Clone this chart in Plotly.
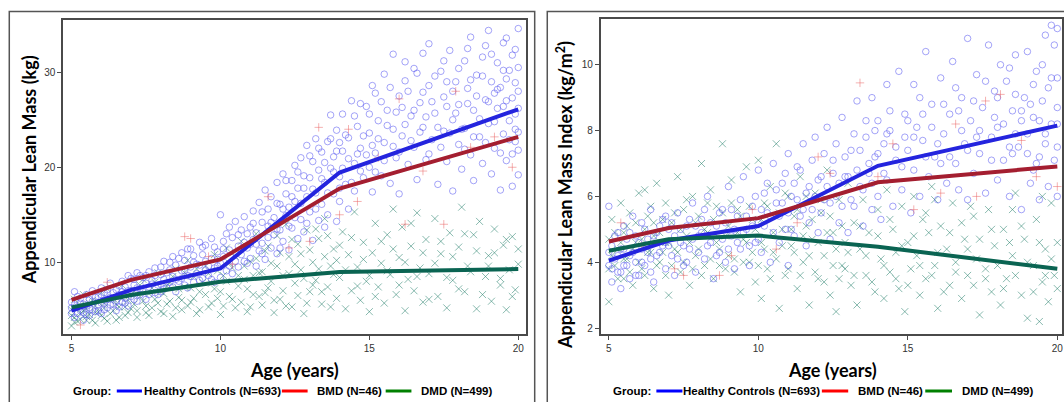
import plotly.graph_objects as go

W, H = 1064, 402

# ---------------- fitted group curves (knots at 5, 7, 10, 14, 20 years) ----------------
knot_ages = [5, 7, 10, 14, 20]

alm_hc = [4.9, 7.1, 9.35, 19.45, 26.1]
alm_bmd = [6.05, 8.15, 10.3, 17.75, 23.2]
alm_dmd = [5.25, 6.55, 7.95, 8.98, 9.28]

almi_hc = [4.05, 4.66, 5.1, 6.93, 8.15]
almi_bmd = [4.63, 5.04, 5.34, 6.43, 6.91]
almi_dmd = [4.35, 4.7, 4.81, 4.47, 3.8]

# ---------------- observations: (age, value) ----------------
alm_hc_obs = [
    (5.0,4.6),(5.0,5.8),(5.1,6.9),(5.1,4.2),(5.2,5.3),(5.3,6.2),(5.3,4.9),(5.4,3.9),(5.4,5.6),(5.5,6.6),
    (5.5,4.5),(5.6,5.2),(5.7,7.0),(5.7,5.9),(5.8,4.8),(5.9,6.4),(5.9,5.5),(6.0,7.3),(6.0,4.6),(6.1,6.0),
    (6.1,6.8),(6.2,5.2),(6.3,7.8),(6.3,6.3),(6.4,5.6),(6.5,7.1),(6.5,4.9),(6.6,6.6),(6.7,8.0),(6.7,5.8),
    (6.8,7.4),(6.8,6.2),(6.9,8.6),(6.9,5.4),(7.0,7.0),(7.0,6.4),(7.1,8.2),(7.1,7.6),(7.2,5.9),(7.2,8.9),
    (7.3,7.2),(7.3,6.6),(7.4,8.4),(7.5,7.8),(7.5,6.1),(7.6,9.0),(7.6,7.4),(7.7,8.1),(7.8,6.8),(7.8,9.4),
    (7.9,7.6),(8.0,8.7),(8.0,6.9),(8.1,10.1),(8.1,8.2),(8.2,7.3),(8.3,9.2),(8.3,7.9),(8.4,10.6),(8.4,8.5),
    (8.5,6.9),(8.5,9.7),(8.6,8.0),(8.7,11.0),(8.7,9.1),(8.8,7.6),(8.8,10.2),(8.9,8.6),(9.0,9.5),(9.0,11.4),
    (9.1,7.9),(9.1,10.0),(9.2,8.8),(9.3,12.1),(9.3,9.7),(9.4,8.3),(9.4,10.8),(9.5,9.2),(9.5,11.8),(9.6,8.6),
    (9.7,10.4),(9.7,12.5),(9.8,9.4),(9.8,7.9),(9.9,11.1),(10.0,15.0),(10.0,9.9),(10.0,8.4),(10.1,12.2),(10.1,10.6),
    (10.2,9.1),(10.2,13.0),(10.3,11.3),(10.4,8.8),(10.4,12.6),(10.5,10.1),(10.5,14.3),(10.6,11.7),(10.6,9.5),(10.7,13.4),
    (10.7,10.8),(10.8,12.1),(10.8,14.8),(10.9,9.9),(10.9,11.5),(11.0,13.7),(11.0,10.4),(11.1,15.4),(11.1,12.4),(11.2,9.6),
    (11.2,13.1),(11.3,16.3),(11.3,11.2),(11.4,14.2),(11.4,12.0),(11.5,17.6),(11.5,10.3),(11.6,13.8),(11.6,15.6),(11.7,11.5),
    (11.7,16.9),(11.8,12.9),(11.8,14.7),(11.9,18.4),(11.9,10.9),(12.0,13.4),(12.0,16.1),(12.1,19.3),(12.1,12.2),(12.2,14.9),
    (12.2,17.2),(12.3,11.3),(12.3,15.8),(12.4,18.6),(12.4,13.6),(12.5,20.2),(12.5,16.4),(12.6,12.5),(12.6,17.8),(12.7,14.5),
    (12.7,21.0),(12.8,19.1),(12.8,13.2),(12.9,16.9),(12.9,22.3),(13.0,15.3),(13.0,18.9),(13.1,12.3),(13.1,20.6),(13.2,17.3),
    (13.2,23.0),(13.3,14.4),(13.3,19.7),(13.4,21.6),(13.4,16.1),(13.5,13.7),(13.5,18.4),(13.6,22.7),(13.6,15.0),(13.7,19.9),
    (13.7,25.5),(13.8,17.2),(13.8,21.1),(13.9,14.3),(13.9,23.9),(14.0,19.0),(14.0,16.4),(14.1,25.6),(14.1,21.7),(14.2,18.2),
    (14.3,23.1),(14.3,15.6),(14.4,27.0),(14.5,20.4),(14.5,17.5),(14.6,24.3),(14.7,22.0),(14.8,18.9),(14.9,26.4),(15.0,20.0),
    (15.0,23.6),(15.1,17.4),(15.2,27.8),(15.2,21.5),(15.3,24.9),(15.4,19.1),(15.5,29.8),(15.5,22.6),(15.6,26.0),(15.7,18.3),
    (15.8,24.0),(15.8,31.9),(15.9,21.0),(16.0,27.5),(16.0,17.2),(16.1,23.3),(16.2,29.1),(16.3,20.3),(16.4,25.4),(16.5,22.1),
    (16.5,30.4),(16.6,18.7),(16.7,26.8),(16.8,24.2),(16.9,20.8),(17.0,28.6),(17.0,33.0),(17.1,22.9),(17.2,25.7),(17.3,18.2),
    (17.4,30.1),(17.5,23.8),(17.5,27.4),(17.6,20.6),(17.7,32.3),(17.8,25.0),(17.8,17.5),(17.9,29.0),(18.0,22.4),(18.0,26.6),
    (18.1,19.8),(18.2,31.2),(18.2,24.1),(18.3,28.3),(18.4,21.3),(18.4,33.7),(18.5,26.0),(18.5,18.6),(18.6,29.7),(18.7,23.2),
    (18.8,31.6),(18.8,20.4),(18.9,27.1),(19.0,24.6),(19.0,34.4),(19.1,19.3),(19.1,29.0),(19.2,22.0),(19.3,31.0),(19.3,26.2),
    (19.4,17.6),(19.4,28.4),(19.5,23.5),(19.5,33.1),(19.6,20.7),(19.6,27.0),(19.7,30.2),(19.7,24.9),(19.8,18.0),(19.8,31.8),
    (19.9,22.7),(19.9,28.9),(20.0,26.2),(20.0,19.2),(20.0,34.6),(20.0,23.7),(20.0,30.5),(19.9,25.6),(19.8,21.4),(19.6,33.6),
    (19.2,27.8),
    (5.0,5.2),(5.1,5.5),(5.2,4.6),(5.2,6.4),(5.3,5.7),(5.4,4.7),(5.5,5.4),(5.6,6.1),(5.6,4.4),(5.7,5.0),
    (5.8,6.3),(5.9,4.9),(6.0,5.7),(6.0,6.6),(6.1,5.0),(6.2,6.1),(6.2,7.1),(6.3,5.5),(6.4,6.8),(6.5,5.9),
    (6.6,7.5),(6.6,5.3),(6.7,6.9),(6.8,5.7),(6.9,7.0),(7.0,8.3),(7.1,6.1),(7.2,7.3),(7.3,8.6),(7.4,6.9),
    (7.5,8.6),(7.6,6.6),(7.7,7.7),(7.8,8.6),(7.9,6.6),(8.0,9.5),(8.0,7.7),(8.1,7.2),(8.2,8.9),(8.3,10.0),
    (8.4,7.4),(8.5,8.2),(8.6,10.4),(8.7,8.3),(8.8,9.1),(8.9,11.4),(8.9,7.3),(9.0,8.5),(9.1,10.7),(9.2,9.8),
    (9.3,8.1),(9.4,11.6),(9.5,10.1),(9.6,9.6),(9.7,8.2),(9.8,11.6),(9.9,9.6),(9.9,10.3),(10.1,11.4),(10.3,9.6),
    (10.3,13.7),(10.5,11.0),(10.6,12.9),(10.8,10.1),(10.9,13.0),(11.0,11.9),(11.1,14.1),(11.2,11.9),(11.4,10.9),(11.4,15.3),
    (11.6,12.6),(11.7,14.2),(11.9,13.5),(11.9,16.2),(12.0,11.5),(12.1,15.6),(12.2,18.6),(12.3,13.8),(12.4,16.9),(12.5,14.7),
    (12.6,19.5),(12.7,16.2),(12.8,17.8),(12.9,14.1),(13.0,21.2),(13.1,17.7),(13.2,15.6),(13.3,22.0),(13.4,18.8),(13.5,20.5),
    (13.6,17.3),(13.7,23.0),(13.8,19.5),(13.9,21.7),(14.0,22.6),(14.0,17.8),(14.1,19.9),(14.2,23.4),(14.3,20.9),(14.4,18.4),
    (14.5,25.4),(14.6,21.4),(14.7,19.6),(14.7,26.7),(14.8,23.3),(14.9,21.3),(15.0,25.6),(15.1,22.3),(15.1,28.6),(15.2,19.5),
    (15.3,23.0),(15.4,26.9),(15.5,20.7),(15.6,24.4),(15.7,28.4),(15.8,22.2),(15.9,25.8),(16.0,21.6),(16.1,26.3),(16.2,24.5),
    (16.3,28.0),(16.4,22.8),(16.5,26.0),(16.6,29.9),(16.7,23.7),(16.8,27.9),(16.9,25.3),(17.0,21.4),(17.1,26.9),(17.2,29.6),
    (17.3,24.2),(17.4,22.1),(17.5,31.2),(17.6,26.4),(17.7,23.6),(17.8,28.0),(17.9,25.7),(18.0,30.4),(18.1,24.0),(18.2,21.9),
    (18.3,26.7),(18.4,29.2),(18.5,23.2),(18.6,27.5),(18.7,25.1),(18.8,29.6),(18.9,22.6),(19.0,26.9),(19.1,31.9),(19.2,24.8),
    (19.3,28.2),(19.4,21.5),(19.5,26.4),(19.6,29.3),(19.7,22.9),(19.8,27.3),(19.9,24.0),(20.0,28.0),(20.0,21.8),(19.9,32.4),
    (19.5,30.2),(18.9,32.8),(18.3,32.5),(17.6,29.0),(16.8,32.0),(16.2,31.1),
]

alm_dmd_obs = [
    (5.0,3.3),(5.0,5.0),(5.1,4.2),(5.1,6.1),(5.2,3.8),(5.3,5.5),(5.3,4.6),(5.4,6.6),(5.5,3.9),(5.5,5.1),
    (5.6,4.5),(5.7,6.0),(5.8,3.6),(5.8,5.4),(5.9,4.8),(6.0,6.8),(6.1,4.1),(6.1,5.7),(6.2,7.2),(6.3,4.6),
    (6.4,6.2),(6.5,3.9),(6.6,5.3),(6.7,7.6),(6.8,4.4),(6.9,6.0),(7.0,5.1),(7.1,7.0),(7.2,4.2),(7.3,6.4),
    (7.4,8.2),(7.5,5.4),(7.6,4.4),(7.7,7.3),(7.8,6.1),(7.9,8.9),(8.0,4.8),(8.1,6.7),(8.2,5.6),(8.3,7.9),
    (8.4,4.3),(8.5,9.3),(8.6,6.3),(8.7,5.0),(8.8,7.4),(8.9,10.2),(9.0,5.8),(9.1,8.5),(9.2,4.6),(9.3,6.9),
    (9.5,9.6),(9.6,5.3),(9.7,7.8),(9.8,10.8),(9.9,6.2),(10.0,4.5),(10.1,8.6),(10.2,11.5),(10.3,6.4),(10.4,9.4),
    (10.5,5.2),(10.6,7.5),(10.7,12.2),(10.8,8.2),(10.9,4.8),(11.0,10.1),(11.1,6.6),(11.2,13.0),(11.3,8.9),(11.4,5.5),
    (11.5,11.2),(11.6,7.3),(11.7,9.9),(11.8,4.7),(11.9,12.8),(12.0,6.1),(12.1,8.6),(12.2,14.0),(12.3,10.6),(12.4,5.3),
    (12.5,7.8),(12.6,11.9),(12.7,9.2),(12.8,4.6),(12.9,13.4),(13.0,6.9),(13.1,10.0),(13.2,8.1),(13.3,12.5),(13.4,5.6),
    (13.5,14.6),(13.6,7.4),(13.7,9.6),(13.8,11.4),(13.9,6.2),(14.0,8.4),(14.1,13.2),(14.2,5.1),(14.3,10.8),(14.4,7.0),
    (14.5,15.3),(14.6,9.5),(14.7,6.0),(14.8,12.1),(14.9,8.0),(15.0,4.8),(15.1,11.0),(15.2,14.1),(15.3,7.4),(15.4,9.9),
    (15.5,5.7),(15.6,12.9),(15.7,8.7),(15.8,15.6),(15.9,6.6),(16.0,10.5),(16.1,13.7),(16.2,4.9),(16.3,8.2),(16.4,11.7),
    (16.5,7.0),(16.6,15.2),(16.7,9.4),(16.8,5.8),(16.9,12.4),(17.0,8.8),(17.2,14.6),(17.3,6.4),(17.4,10.9),(17.6,5.2),
    (17.7,13.1),(17.8,8.1),(18.0,11.6),(18.1,15.8),(18.2,6.9),(18.3,9.6),(18.5,12.9),(18.6,5.1),(18.7,14.3),(18.9,8.5),
    (19.0,10.7),(19.1,5.9),(19.2,13.5),(19.4,7.6),(19.5,11.8),(19.6,5.0),(19.7,9.2),(19.8,12.7),(19.9,7.1),(20.0,11.4),
    (5.0,4.4),(5.1,3.7),(5.2,5.1),(5.3,4.0),(5.4,4.9),(5.5,4.3),(5.6,5.7),(5.7,3.9),(5.8,4.7),(5.9,5.8),
    (6.0,4.4),(6.1,5.2),(6.2,3.8),(6.3,6.0),(6.4,4.9),(6.5,5.6),(6.6,4.2),(6.7,6.2),(6.8,5.3),(6.9,4.7),
    (7.0,6.6),(7.1,5.6),(7.2,4.9),(7.3,7.6),(7.4,5.9),(7.5,4.7),(7.6,6.7),(7.7,5.2),(7.8,7.9),(7.9,5.7),
    (8.0,6.9),(8.1,4.6),(8.2,7.5),(8.3,5.9),(8.4,8.5),(8.5,5.2),(8.6,7.2),(8.7,6.0),(8.8,8.9),(8.9,5.4),
    (9.0,7.3),(9.1,6.2),(9.2,9.3),(9.3,5.0),(9.4,7.9),(9.5,6.6),(9.6,8.8),(9.7,5.7),(9.8,7.2),(9.9,9.1),
    (10.0,6.9),(10.1,5.4),(10.2,8.0),(10.3,9.9),(10.4,6.1),(10.5,10.6),(10.6,8.6),(10.7,5.8),(10.8,9.6),(10.9,7.2),
    (11.0,5.3),(11.1,8.6),(11.2,10.4),(11.3,6.4),(11.4,9.0),(11.5,6.8),(11.6,11.7),(11.7,8.0),(11.8,6.0),(11.9,9.6),
    (12.0,11.0),(12.1,7.0),(12.2,5.4),(12.3,8.8),(12.4,12.4),(12.5,9.8),(12.6,6.5),(12.7,10.9),(12.8,8.3),(12.9,5.7),
    (13.0,11.3),(13.1,7.6),(13.2,13.5),(13.3,9.3),(13.4,6.9),(13.5,10.6),(13.6,12.8),(13.7,5.3),(13.8,8.7),(13.9,10.2),
    (14.0,11.8),(14.2,9.2),(14.4,12.6),(14.6,7.5),(14.8,10.3),(15.0,8.6),(15.2,6.4),(15.4,12.2),(15.6,9.1),(15.8,11.4),
    (16.0,7.6),(16.2,10.0),(16.4,14.1),(16.6,8.5),(16.8,11.0),(17.0,6.1),(17.2,9.9),(17.4,12.2),(17.6,8.4),(17.8,10.6),
    (18.0,7.2),(18.2,13.0),(18.4,9.0),(18.6,11.2),(18.8,6.6),(19.0,9.6),(19.2,11.0),(19.4,8.3),(19.6,12.4),(19.8,6.4),
    (20.0,9.8),
]

alm_bmd_obs = [
    (5.3,3.4),(6.2,7.9),(8.8,12.7),(9.0,12.5),(9.6,10.6),(10.4,9.8),(11.6,16.9),(12.3,11.5),(13.0,12.2),(13.3,24.2),
    (14.0,15.0),(14.3,24.0),(14.6,16.4),(15.3,21.0),(16.0,27.2),(16.2,14.0),(16.8,19.6),(17.5,14.0),(17.9,28.0),(18.4,22.1),
    (19.2,23.2),(19.8,20.0),
]

almi_hc_obs = [
    (5.0,5.7),(5.0,3.9),(5.1,4.5),(5.1,3.4),(5.2,4.1),(5.3,4.9),(5.3,3.7),(5.4,3.2),(5.4,4.4),(5.5,5.1),
    (5.5,3.9),(5.6,4.7),(5.7,3.5),(5.7,4.2),(5.8,5.4),(5.9,4.0),(5.9,4.8),(6.0,3.6),(6.1,4.4),(6.1,5.2),
    (6.2,3.9),(6.3,4.7),(6.4,5.6),(6.4,4.1),(6.5,3.4),(6.6,4.9),(6.7,4.3),(6.8,5.3),(6.9,3.8),(6.9,4.6),
    (7.0,5.0),(7.1,4.2),(7.2,3.6),(7.3,5.5),(7.4,4.6),(7.5,3.9),(7.6,5.1),(7.7,4.4),(7.8,5.8),(7.9,3.7),
    (8.0,4.8),(8.1,5.3),(8.2,4.1),(8.3,6.0),(8.4,4.6),(8.5,3.5),(8.6,5.1),(8.7,4.3),(8.8,5.6),(8.9,4.0),
    (9.0,6.3),(9.1,4.8),(9.2,3.8),(9.3,5.4),(9.4,4.4),(9.5,6.6),(9.6,5.0),(9.7,3.9),(9.8,5.7),(9.9,4.6),
    (10.0,6.8),(10.0,5.2),(10.1,4.3),(10.2,6.1),(10.3,5.5),(10.4,4.0),(10.5,7.0),(10.6,5.8),(10.7,4.6),(10.8,6.4),
    (10.9,5.0),(11.0,7.3),(11.0,3.9),(11.1,6.0),(11.2,4.8),(11.3,6.9),(11.4,5.4),(11.5,7.6),(11.6,4.5),(11.7,6.3),
    (11.8,5.6),(11.9,7.8),(12.0,4.9),(12.1,6.6),(12.2,5.9),(12.3,8.1),(12.4,4.7),(12.5,7.1),(12.6,6.0),(12.7,5.2),
    (12.8,8.4),(12.9,6.6),(13.0,4.9),(13.1,7.4),(13.2,5.7),(13.3,8.9),(13.4,6.3),(13.5,5.1),(13.6,7.8),(13.7,6.7),
    (13.8,9.0),(13.8,5.6),(13.9,7.2),(14.0,6.0),(14.0,8.3),(14.1,5.3),(14.2,7.6),(14.3,9.4),(14.3,6.5),(14.4,8.0),
    (14.5,5.7),(14.6,7.1),(14.7,9.8),(14.8,6.2),(14.9,8.5),(15.0,7.4),(15.1,5.5),(15.2,9.4),(15.2,6.8),(15.3,8.1),
    (15.4,6.0),(15.5,7.7),(15.6,10.4),(15.7,6.6),(15.8,8.8),(15.9,7.2),(16.0,5.9),(16.1,9.6),(16.2,7.9),(16.3,6.4),
    (16.4,8.5),(16.5,10.1),(16.6,7.0),(16.7,6.2),(16.8,9.0),(16.9,7.6),(17.0,10.8),(17.0,5.9),(17.1,8.3),(17.2,6.7),
    (17.3,9.7),(17.4,7.3),(17.5,8.7),(17.6,6.1),(17.7,10.6),(17.8,7.8),(17.9,9.2),(18.0,6.5),(18.0,8.1),(18.1,10.0),
    (18.2,7.1),(18.3,9.5),(18.4,6.0),(18.5,8.6),(18.6,10.3),(18.7,7.5),(18.8,5.6),(18.9,9.0),(19.0,7.9),(19.0,10.4),
    (19.1,6.4),(19.2,8.4),(19.3,9.8),(19.3,7.0),(19.4,5.9),(19.5,8.9),(19.5,10.0),(19.6,7.6),(19.7,6.3),(19.7,9.3),
    (19.8,11.2),(19.8,8.2),(19.9,7.1),(19.9,10.6),(20.0,8.7),(20.0,6.0),(20.0,9.6),(20.0,7.5),(19.6,10.9),(19.2,6.8),
    (18.8,8.3),(18.4,9.9),(20.0,11.1),(19.4,7.2),(18.6,7.9),
    (5.0,4.3),(5.1,3.8),(5.2,4.8),(5.3,4.2),(5.4,3.7),(5.5,4.4),(5.6,3.9),(5.7,4.9),(5.8,4.3),(5.9,3.6),
    (6.0,4.6),(6.1,4.0),(6.2,5.0),(6.3,4.3),(6.4,3.7),(6.5,4.8),(6.6,4.2),(6.7,5.1),(6.8,4.5),(6.9,5.4),
    (7.0,4.5),(7.1,5.2),(7.2,4.8),(7.3,4.1),(7.4,5.0),(7.5,4.5),(7.6,4.0),(7.7,5.3),(7.8,4.7),(7.9,5.1),
    (8.0,4.3),(8.1,4.9),(8.2,5.6),(8.3,4.5),(8.4,5.2),(8.5,4.8),(8.6,4.2),(8.7,5.5),(8.8,4.7),(8.9,5.2),
    (9.0,4.4),(9.1,5.6),(9.2,5.0),(9.3,4.6),(9.4,5.9),(9.5,4.9),(9.6,5.4),(9.7,4.5),(9.8,5.1),(9.9,6.0),
    (10.0,4.7),(10.1,5.6),(10.2,5.1),(10.3,6.4),(10.4,5.4),(10.5,4.9),(10.6,6.2),(10.7,5.4),(10.8,5.8),(10.9,6.7),
    (11.0,5.5),(11.1,5.0),(11.2,6.4),(11.3,5.9),(11.4,6.8),(11.5,5.6),(11.6,6.1),(11.7,5.2),(11.8,7.1),(11.9,6.0),
    (12.0,6.5),(12.1,5.5),(12.2,7.3),(12.3,6.3),(12.4,5.8),(12.5,6.7),(12.6,7.6),(12.7,6.4),(12.8,5.7),(12.9,7.2),
    (13.0,6.6),(13.1,5.9),(13.2,7.9),(13.3,6.8),(13.4,7.4),(13.5,6.2),(13.6,8.3),(13.7,7.0),(13.8,6.4),(13.9,8.0),
    (14.0,7.3),(14.2,6.7),(14.4,8.6),(14.6,7.5),(14.8,6.9),(15.0,8.3),(15.2,7.8),(15.4,9.0),(15.6,7.2),(15.8,8.1),
    (16.0,7.6),(16.2,8.8),(16.4,7.2),(16.6,9.3),(16.8,8.0),(17.0,7.4),(17.2,8.9),(17.4,8.0),(17.6,9.5),(17.8,7.1),
    (18.0,9.0),(18.2,8.2),(18.4,7.5),(18.6,9.1),(18.8,8.6),(19.0,7.3),(19.2,9.4),(19.4,8.3),(19.6,7.9),(19.8,9.6),
    (20.0,8.2),(19.1,8.8),(18.5,7.3),(17.9,8.4),(17.3,7.8),(16.7,8.6),(16.1,7.0),(15.5,8.5),(14.9,7.8),(14.3,7.9),
]

almi_dmd_obs = [
    (5.0,2.8),(5.0,4.7),(5.1,5.3),(5.2,3.9),(5.3,4.4),(5.4,5.8),(5.5,3.5),(5.5,4.9),(5.6,4.1),(5.7,5.5),
    (5.8,3.3),(5.9,4.6),(6.0,6.1),(6.1,3.8),(6.2,5.0),(6.3,4.3),(6.4,5.7),(6.5,3.2),(6.5,4.8),(6.6,6.4),
    (6.7,4.0),(6.8,5.3),(6.9,3.6),(6.9,4.6),(6.2,6.2),(7.0,3.0),(7.1,5.2),(7.2,4.4),(7.3,6.6),(7.4,3.7),
    (7.5,5.6),(7.6,4.8),(7.7,3.3),(7.8,6.0),(7.9,4.2),(8.0,5.4),(8.1,7.0),(8.2,3.9),(8.3,4.9),(8.4,6.2),
    (8.5,3.5),(8.6,5.7),(8.7,4.4),(8.8,7.6),(8.9,3.8),(9.0,5.1),(9.1,6.5),(9.2,4.1),(9.3,5.6),(9.4,3.1),
    (9.5,4.7),(9.6,6.9),(9.7,4.0),(9.8,5.3),(9.9,3.4),(10.0,7.1),(10.1,4.6),(10.1,2.9),(10.2,5.8),(10.3,3.8),
    (10.4,6.3),(10.5,4.3),(10.6,7.6),(10.7,2.6),(10.8,5.0),(10.9,3.6),(11.0,6.0),(11.1,4.5),(11.2,5.4),(11.3,3.2),
    (11.4,6.6),(11.5,4.0),(11.6,5.1),(11.7,2.7),(11.8,4.7),(11.9,6.1),(12.0,3.5),(12.1,5.5),(12.2,4.2),(12.3,6.8),
    (12.4,3.0),(12.5,4.9),(12.6,2.5),(12.7,5.9),(12.8,3.9),(12.9,4.6),(13.0,6.4),(13.1,3.3),(13.2,5.2),(13.3,2.7),
    (13.4,4.4),(13.5,5.9),(13.6,3.6),(13.7,4.9),(13.9,3.1),(14.0,5.6),(14.1,4.1),(14.2,2.9),(14.3,6.2),(14.4,3.7),
    (14.5,5.0),(14.6,4.3),(14.7,3.2),(14.8,5.7),(14.9,2.5),(15.0,4.6),(15.1,3.8),(15.2,6.0),(15.3,4.2),(15.4,3.0),
    (15.5,5.3),(15.6,3.5),(15.7,4.9),(15.8,6.3),(15.9,3.9),(16.0,2.6),(16.1,5.1),(16.3,4.4),(16.4,3.3),(16.5,5.8),
    (16.6,4.0),(16.8,2.9),(16.9,4.7),(17.0,3.6),(17.2,5.4),(17.3,4.1),(17.4,2.4),(17.6,3.8),(17.7,5.6),(17.8,3.1),
    (17.9,4.5),(18.1,2.7),(18.2,5.0),(18.3,3.5),(18.5,4.2),(18.6,6.1),(18.8,3.0),(18.9,4.7),(19.0,2.3),(19.2,3.9),
    (19.3,5.3),(19.5,3.4),(19.6,4.4),(19.7,2.8),(19.8,5.8),(19.9,3.6),(20.0,4.6),(19.4,2.2),
    (5.0,3.8),(5.1,4.2),(5.2,4.9),(5.3,3.5),(5.4,4.6),(5.5,4.1),(5.6,5.1),(5.7,3.7),(5.8,4.4),(5.9,5.2),
    (6.0,4.0),(6.1,4.7),(6.2,3.6),(6.3,5.4),(6.4,4.3),(6.5,5.2),(6.6,3.9),(6.7,4.9),(6.8,4.3),(6.9,5.8),
    (7.0,4.6),(7.1,3.9),(7.2,5.5),(7.3,4.3),(7.4,5.0),(7.5,4.0),(7.6,5.9),(7.7,4.6),(7.8,3.8),(7.9,5.2),
    (8.0,4.4),(8.1,3.6),(8.2,5.0),(8.3,5.8),(8.4,4.1),(8.5,5.3),(8.6,4.6),(8.7,3.9),(8.8,5.5),(8.9,4.8),
    (9.0,4.2),(9.1,5.8),(9.2,3.7),(9.3,4.9),(9.4,5.4),(9.5,4.0),(9.6,4.6),(9.7,5.7),(9.8,4.3),(9.9,5.0),
    (10.0,3.9),(10.1,5.3),(10.2,4.4),(10.3,5.7),(10.4,3.5),(10.5,4.9),(10.6,4.1),(10.7,5.5),(10.8,4.5),(10.9,6.1),
    (11.0,3.8),(11.1,5.0),(11.2,4.3),(11.3,5.6),(11.4,3.6),(11.5,4.8),(11.6,6.0),(11.7,4.2),(11.8,5.3),(11.9,3.7),
    (12.0,4.6),(12.1,5.9),(12.2,3.4),(12.3,4.9),(12.4,5.4),(12.5,3.9),(12.6,4.4),(12.7,3.5),(12.8,5.1),(12.9,3.8),
    (13.0,4.3),(13.2,3.6),(13.4,5.1),(13.6,4.2),(13.8,3.4),(14.0,4.8),(14.2,3.9),(14.4,5.3),(14.6,3.5),(14.8,4.5),
    (15.0,3.3),(15.2,4.8),(15.4,3.9),(15.6,5.5),(15.8,3.6),(16.0,4.3),(16.2,3.1),(16.4,4.9),(16.6,3.7),(16.8,5.2),
    (17.0,4.4),(17.2,3.3),(17.4,4.7),(17.6,3.5),(17.8,5.0),(18.0,3.9),(18.2,3.2),(18.4,4.6),(18.6,3.6),(18.8,5.1),
    (19.0,4.0),(19.2,3.1),(19.4,4.6),(19.6,3.6),(19.8,4.1),(20.0,3.2),(15.9,5.9),(17.1,5.7),(18.5,5.6),(19.5,6.0),
]

almi_bmd_obs = [
    (5.4,5.2),(6.1,4.5),(7.2,3.8),(7.5,3.6),(8.7,3.6),(9.1,4.2),(9.8,5.6),(10.6,4.4),(11.3,5.2),(12.0,7.2),
    (12.4,6.7),(13.4,9.45),(14.0,6.6),(14.5,7.6),(15.2,5.6),(16.1,6.1),(16.6,8.2),(17.3,6.0),(17.6,8.9),(18.1,9.1),
    (18.8,7.7),(19.3,6.6),(20.0,6.3),
]

group_labels = ["Healthy Controls (N=693)", "BMD (N=46)", "DMD (N=499)"]
y_titles = ["Appendicular Lean Mass (kg)", "Appendicular Lean Mass Index (kg/m<sup>2</sup>)"]
x_title = "Age (years)"
x_ticks = [5, 10, 15, 20]
left_y_ticks = [10, 20, 30]
right_y_ticks = [2, 4, 6, 8, 10]

# ---------------- styling ----------------
LINE_COL = {"hc": "rgb(36,36,222)", "bmd": "rgb(164,30,48)", "dmd": "rgb(10,100,82)"}
KEY_COL = {"hc": "rgb(0,0,255)", "bmd": "rgb(255,0,0)", "dmd": "rgb(0,128,0)"}
HC_MARK = "rgba(90,90,240,0.55)"
DMD_MARK = "rgba(40,130,110,0.55)"
BMD_MARK = "rgba(235,100,100,0.5)"


def px(x):
    return x / W


def py(y):
    return 1 - y / H


fig = go.Figure()


def add_panel(xa, ya, hc, dmd, bmd, c_hc, c_bmd, c_dmd):
    for obs, sym, col, size in ((dmd, "x-thin-open", DMD_MARK, 7),
                                (hc, "circle-open", HC_MARK, 6.5),
                                (bmd, "cross-thin-open", BMD_MARK, 6)):
        fig.add_trace(go.Scatter(
            x=[a for a, _ in obs], y=[v for _, v in obs], mode="markers",
            marker=dict(symbol=sym, size=size, color=col, line=dict(color=col, width=1)),
            xaxis=xa, yaxis=ya, showlegend=False, hoverinfo="skip"))
    for vals, key in ((c_hc, "hc"), (c_bmd, "bmd"), (c_dmd, "dmd")):
        fig.add_trace(go.Scatter(
            x=knot_ages, y=vals, mode="lines",
            line=dict(color=LINE_COL[key], width=4),
            xaxis=xa, yaxis=ya, showlegend=False, hoverinfo="skip"))


add_panel("x", "y", alm_hc_obs, alm_dmd_obs, alm_bmd_obs, alm_hc, alm_bmd, alm_dmd)
add_panel("x2", "y2", almi_hc_obs, almi_dmd_obs, almi_bmd_obs, almi_hc, almi_bmd, almi_dmd)

axis_common = dict(showgrid=False, zeroline=False, showline=True, mirror=True,
                   linecolor="#4a4a4a", linewidth=1.5, ticks="outside", ticklen=4,
                   tickwidth=1, tickcolor="#4a4a4a",
                   tickfont=dict(family="Liberation Sans, Arial, sans-serif", size=10, color="#333"))

fig.update_layout(
    width=W, height=H, margin=dict(l=0, r=0, t=0, b=0),
    paper_bgcolor="white", plot_bgcolor="white", showlegend=False,
    xaxis=dict(domain=[px(63.3), px(526.7)], range=[4.72, 20.25], tickvals=x_ticks,
               anchor="y", **axis_common),
    yaxis=dict(domain=[py(334), py(20)], range=[2.45, 35.5], tickvals=left_y_ticks,
               anchor="x", **axis_common),
    xaxis2=dict(domain=[px(601.7), 1.0], range=[4.723, 20.157], tickvals=x_ticks,
                anchor="y2", **axis_common),
    yaxis2=dict(domain=[py(334), py(19)], range=[1.82, 11.39], tickvals=right_y_ticks,
                anchor="x2", **axis_common),
)

shapes = []
annotations = []

# outer panel frames
shapes.append(dict(type="rect", xref="paper", yref="paper", x0=px(9.3), x1=px(535.7),
                   y0=py(11.4), y1=py(420), line=dict(color="#555", width=1.5)))
shapes.append(dict(type="rect", xref="paper", yref="paper", x0=px(548.3), x1=px(1090),
                   y0=py(11.4), y1=py(420), line=dict(color="#555", width=1.5)))

TITLE_FONT = dict(family="Lato, Carlito, sans-serif", size=18, color="black")
LEG_FONT = dict(family="Liberation Sans, Arial, sans-serif", size=11.5, color="#000")

# axis titles
for cx, text in ((294.8, x_title), (834.0, x_title)):
    annotations.append(dict(xref="paper", yref="paper", x=px(cx), y=py(370), text="<b>%s</b>" % text,
                            showarrow=False, xanchor="center", yanchor="middle", font=TITLE_FONT))
for (cx, cy), text in zip(((29.3, 170), (566.0, 195)), y_titles):
    annotations.append(dict(xref="paper", yref="paper", x=px(cx), y=py(cy), text="<b>%s</b>" % text,
                            textangle=-90, showarrow=False, xanchor="center", yanchor="middle",
                            font=TITLE_FONT))

# group key rows beneath each panel
key_rows = [
    dict(group=73.3, swatches=[(117, 142.2), (282.4, 308.2), (386.4, 412.2)], labels=[144, 317.5, 421.8]),
    dict(group=614.2, swatches=[(657.6, 683.7), (823.4, 849.8), (927, 953.8)], labels=[684.7, 859.2, 963.8]),
]
KEY_Y = 391
for row in key_rows:
    annotations.append(dict(xref="paper", yref="paper", x=px(row["group"]), y=py(KEY_Y), text="<b>Group:</b>",
                            showarrow=False, xanchor="left", yanchor="middle", font=LEG_FONT,
                            xshift=-2))
    for (x0, x1), key in zip(row["swatches"], ("hc", "bmd", "dmd")):
        shapes.append(dict(type="line", xref="paper", yref="paper", x0=px(x0), x1=px(x1),
                           y0=py(KEY_Y), y1=py(KEY_Y), line=dict(color=KEY_COL[key], width=3)))
    for lx, text in zip(row["labels"], group_labels):
        annotations.append(dict(xref="paper", yref="paper", x=px(lx), y=py(KEY_Y), text="<b>%s</b>" % text,
                                showarrow=False, xanchor="left", yanchor="middle", font=LEG_FONT,
                                xshift=-2))

fig.update_layout(shapes=shapes, annotations=annotations)

fig.write_html("out.html")
